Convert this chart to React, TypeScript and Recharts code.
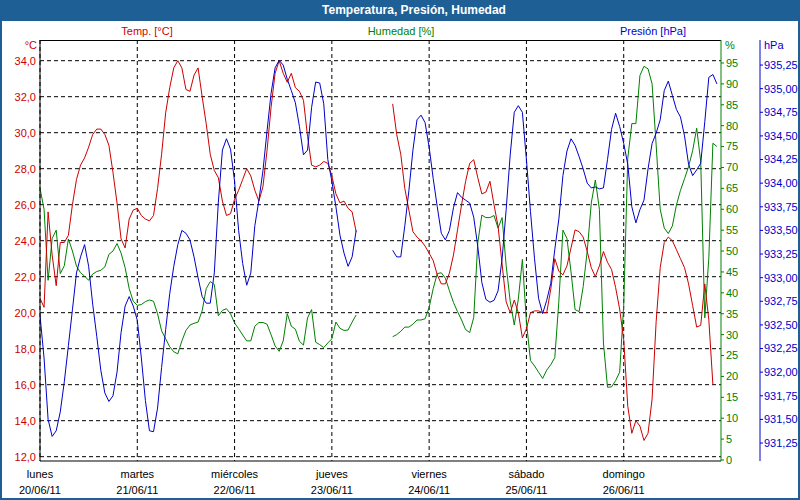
import React from 'react'
import {
  LineChart,
  Line,
  XAxis,
  YAxis,
  CartesianGrid,
} from 'recharts'

// one reading per hour, lunes 20/06/11 00:00 .. lunes 27/06/11 00:00
const hours = Array.from({ length: 169 }, (_, i) => i)

const dayTicks = [0, 24, 48, 72, 96, 120, 144]
const dayNames = ['lunes', 'martes', 'miércoles', 'jueves', 'viernes', 'sábado', 'domingo']
const dayDates = ['20/06/11', '21/06/11', '22/06/11', '23/06/11', '24/06/11', '25/06/11', '26/06/11']

const tempTicks = [12, 14, 16, 18, 20, 22, 24, 26, 28, 30, 32, 34]
const humTicks = [0, 5, 10, 15, 20, 25, 30, 35, 40, 45, 50, 55, 60, 65, 70, 75, 80, 85, 90, 95]
const presTicks = [931.25, 931.5, 931.75, 932, 932.25, 932.5, 932.75, 933, 933.25, 933.5, 933.75, 934, 934.25, 934.5, 934.75, 935, 935.25]

// Temp. [°C]
const temp = [
  20.8, 20.3, 25.6, 23.2, 21.5, 23.9, 23.9, 24.3, 26.0, 27.4, // 0
  28.2, 28.6, 29.2, 29.9, 30.2, 30.2, 29.9, 29.3, 27.8, 26.1, // 10
  24.1, 23.6, 25.2, 25.7, 25.8, 25.4, 25.2, 25.1, 25.4, 26.9, // 20
  28.8, 31.1, 32.5, 33.6, 34.0, 33.6, 32.4, 32.3, 33.2, 33.6, // 30
  32.0, 30.5, 28.8, 27.9, 27.5, 26.2, 25.4, 25.5, 26.3, 26.8, // 40
  27.4, 28.0, 27.6, 26.8, 26.2, 27.0, 29.0, 31.4, 33.3, 34.0, // 50
  33.3, 32.8, 33.3, 32.5, 32.3, 31.8, 29.8, 28.2, 28.1, 28.2, // 60
  28.4, 28.3, 27.6, 26.6, 26.1, 26.2, 25.8, 25.6, 24.5, null, // 70
  null, null, null, null, null, null, null, 31.6, 29.9, 28.8, // 80
  26.9, 25.7, 24.5, 24.2, 24.0, 23.7, 23.3, 22.9, 22.1, 21.6, // 90
  21.6, 22.2, 23.2, 24.6, 26.0, 27.3, 28.3, 28.5, 27.5, 26.6, // 100
  26.7, 27.3, 26.0, 24.8, 22.7, 20.6, 20.0, 20.7, 20.0, 18.6, // 110
  19.1, 20.0, 20.1, 20.1, 20.0, 20.0, 21.3, 23.0, 22.3, 22.1, // 120
  22.6, 23.6, 24.6, 24.5, 24.2, 23.4, 22.5, 22.0, 22.6, 23.4, // 130
  22.8, 22.4, 21.4, 20.2, 18.5, 14.8, 13.3, 14.0, 13.7, 12.9, // 140
  13.3, 15.2, 19.5, 22.5, 23.9, 24.2, 24.0, 23.5, 23.0, 22.5, // 150
  21.6, 20.4, 19.2, 19.3, 21.6, 19.6, 16.0, null, null, // 160
]

// Humedad [%]
const hum = [
  65.0, 60.0, 43.0, 53.0, 55.0, 44.6, 46.5, 52.9, 50.0, 46.4, // 0
  44.8, 44.0, 43.0, 44.5, 45.1, 45.4, 46.2, 49.2, 50.0, 51.8, // 10
  49.5, 46.0, 41.0, 38.0, 37.0, 37.2, 37.9, 38.3, 38.0, 35.0, // 20
  30.9, 29.0, 27.1, 25.9, 25.4, 28.5, 31.0, 32.3, 32.7, 33.0, // 30
  35.7, 41.0, 42.7, 42.0, 34.5, 35.8, 36.2, 35.0, 32.8, 31.4, // 40
  29.9, 28.5, 28.5, 32.0, 32.9, 32.9, 32.5, 30.0, 27.3, 26.0, // 50
  28.5, 35.0, 32.0, 31.3, 28.4, 27.5, 34.0, 36.0, 28.2, 27.6, // 60
  26.9, 28.0, 29.0, 33.0, 31.5, 31.0, 31.1, 33.0, 34.7, null, // 70
  null, null, null, null, null, null, null, 29.5, 30.0, 30.8, // 80
  31.8, 31.8, 32.5, 33.5, 33.5, 33.8, 36.5, 41.0, 44.6, 44.8, // 90
  43.5, 40.5, 37.7, 35.5, 33.5, 31.2, 30.5, 34.1, 52.0, 58.6, // 100
  58.0, 58.0, 58.5, 55.5, 58.0, 46.5, 38.0, 32.3, 38.5, 48.0, // 110
  33.0, 23.8, 22.5, 21.0, 19.5, 21.5, 22.8, 24.5, 38.0, 55.0, // 120
  53.0, 45.0, 36.0, 35.5, 41.5, 50.0, 61.5, 67.0, 60.0, 28.0, // 130
  17.4, 17.5, 19.0, 21.0, 37.0, 72.2, 80.5, 80.5, 92.0, 94.2, // 140
  93.6, 90.0, 75.4, 60.0, 55.5, 54.2, 56.0, 61.0, 64.5, 67.3, // 150
  70.2, 74.0, 79.4, 71.4, 34.0, 48.4, 75.8, 75.0, null, // 160
]

// Presión [hPa]
const pres = [
  932.6, 932.15, 931.5, 931.32, 931.38, 931.58, 931.9, 932.28, 932.66, 933.05, // 0
  933.22, 933.35, 933.12, 932.72, 932.38, 932.02, 931.78, 931.69, 931.75, 932.0, // 10
  932.42, 932.7, 932.8, 932.7, 932.55, 932.15, 931.7, 931.38, 931.37, 931.62, // 20
  932.05, 932.45, 932.83, 933.12, 933.35, 933.5, 933.47, 933.4, 933.22, 933.0, // 30
  932.8, 932.73, 932.73, 933.05, 933.8, 934.35, 934.47, 934.36, 934.02, 933.5, // 40
  933.15, 932.92, 933.05, 933.55, 933.82, 934.13, 934.55, 934.95, 935.22, 935.3, // 50
  935.25, 935.1, 934.98, 934.85, 934.6, 934.3, 934.35, 934.8, 935.07, 935.06, // 60
  934.84, 934.25, 934.02, 933.75, 933.45, 933.26, 933.12, 933.22, 933.5, null, // 70
  null, null, null, null, null, null, null, 933.29, 933.22, 933.22, // 80
  933.55, 933.92, 934.35, 934.67, 934.72, 934.64, 934.38, 934.05, 933.75, 933.47, // 90
  933.4, 933.5, 933.74, 933.9, 933.85, 933.82, 933.79, 933.64, 933.33, 932.95, // 100
  932.77, 932.74, 932.76, 932.86, 933.2, 933.72, 934.3, 934.75, 934.82, 934.75, // 110
  934.25, 933.7, 933.2, 932.78, 932.62, 932.76, 932.94, 933.3, 933.62, 934.08, // 120
  934.34, 934.47, 934.4, 934.28, 934.15, 934.0, 933.95, 933.96, 933.94, 933.95, // 130
  934.25, 934.57, 934.74, 934.6, 934.42, 934.2, 933.75, 933.58, 933.72, 933.82, // 140
  934.15, 934.42, 934.53, 934.67, 934.98, 935.08, 934.93, 934.78, 934.7, 934.5, // 150
  934.2, 934.08, 934.14, 934.21, 934.65, 935.12, 935.15, 935.05, null, // 160
]

const data = hours.map((h, i) => ({ h, temp: temp[i], hum: hum[i], pres: pres[i] }))

const RED = '#cc0000'
const GREEN = '#008000'
const BLUE = '#0000cc'
const FRAME = '#1e5f96'
const FONT = '"Liberation Sans", Arial, sans-serif'

const comma = (v: number, d: number) => v.toFixed(d).replace('.', ',')

const DayTick = (props: any) => {
  const { x, y, payload } = props
  const i = dayTicks.indexOf(payload.value)
  if (i < 0) return null
  return (
    <g>
      <text x={x} y={y + 15} textAnchor="middle" fontSize={11} fontFamily={FONT} fill="#000">
        {dayNames[i]}
      </text>
      <text x={x} y={y + 31} textAnchor="middle" fontSize={11} fontFamily={FONT} fill="#000">
        {dayDates[i]}
      </text>
    </g>
  )
}

const label = (text: string, color: string, left: number, top: number, align: 'left' | 'center' | 'right' = 'center') => (
  <div
    style={{
      position: 'absolute',
      left: align === 'center' ? left - 100 : align === 'right' ? left - 200 : left,
      top,
      width: align === 'left' ? 'auto' : 200,
      textAlign: align,
      color,
      fontSize: 11,
      fontFamily: FONT,
      lineHeight: '13px',
      whiteSpace: 'nowrap',
    }}
  >
    {text}
  </div>
)

export default function App() {
  return (
    <div
      style={{
        position: 'absolute',
        left: 0,
        top: 0,
        width: 800,
        height: 500,
        background: '#fff',
        overflow: 'hidden',
      }}
    >
      <div style={{ position: 'absolute', left: 0, top: 0, width: 800, height: 21, background: FRAME }} />
      <div
        style={{
          position: 'absolute',
          left: 214,
          top: 3,
          width: 400,
          textAlign: 'center',
          color: '#fff',
          fontWeight: 'bold',
          fontSize: 12,
          fontFamily: FONT,
          lineHeight: '15px',
        }}
      >
        Temperatura, Presión, Humedad
      </div>
      <div style={{ position: 'absolute', left: 0, top: 0, width: 2, height: 500, background: FRAME }} />
      <div style={{ position: 'absolute', right: 0, top: 0, width: 2, height: 500, background: FRAME }} />
      <div style={{ position: 'absolute', left: 0, bottom: 0, width: 800, height: 2, background: FRAME }} />

      {label('Temp. [°C]', RED, 147, 25)}
      {label('Humedad [%]', GREEN, 401, 25)}
      {label('Presión [hPa]', BLUE, 653, 25)}
      {label('°C', RED, 37, 39, 'right')}
      {label('%', GREEN, 725, 39, 'left')}
      {label('hPa', BLUE, 764, 39, 'left')}

      <div style={{ position: 'absolute', left: 40, top: 40, width: 681, height: 1, background: '#000' }} />

      <div style={{ position: 'absolute', left: 0, top: 0 }}>
        <LineChart width={800} height={500} data={data} margin={{ top: 40, right: 0, bottom: 0, left: 0 }}>
          <CartesianGrid
            yAxisId="t"
            stroke="#000"
            strokeDasharray="4 3"
            horizontalValues={tempTicks}
            verticalValues={dayTicks}
          />
          <XAxis
            dataKey="h"
            type="number"
            domain={[0, 168]}
            ticks={dayTicks}
            interval={0}
            height={39}
            stroke="#000"
            tickLine={false}
            tickSize={0}
            tick={<DayTick />}
            allowDataOverflow
          />
          <YAxis
            yAxisId="t"
            orientation="left"
            width={40}
            domain={[11.76, 35.15]}
            ticks={tempTicks}
            interval={0}
            allowDataOverflow
            stroke="#000"
            tickLine={false}
            tickSize={0}
            tickMargin={4}
            tick={{ fill: RED, fontSize: 11, fontFamily: FONT }}
            tickFormatter={(v: number) => comma(v, 1)}
          />
          <YAxis
            yAxisId="h"
            orientation="right"
            width={39}
            domain={[-0.24, 100.5]}
            ticks={humTicks}
            interval={0}
            allowDataOverflow
            stroke={GREEN}
            tickSize={3}
            tickMargin={2}
            tick={{ fill: GREEN, fontSize: 11, fontFamily: FONT, textAnchor: 'start' }}
          />
          <YAxis
            yAxisId="p"
            orientation="right"
            width={40}
            domain={[931.06, 935.515]}
            ticks={presTicks}
            interval={0}
            allowDataOverflow
            stroke={BLUE}
            tickSize={3}
            tickMargin={1}
            tick={{ fill: BLUE, fontSize: 11, fontFamily: FONT, textAnchor: 'start' }}
            tickFormatter={(v: number) => comma(v, 2)}
          />
          <Line yAxisId="h" type="linear" dataKey="hum" stroke={GREEN} strokeWidth={1} dot={false} isAnimationActive={false} />
          <Line yAxisId="t" type="linear" dataKey="temp" stroke={RED} strokeWidth={1} dot={false} isAnimationActive={false} />
          <Line yAxisId="p" type="linear" dataKey="pres" stroke={BLUE} strokeWidth={1} dot={false} isAnimationActive={false} />
        </LineChart>
      </div>
    </div>
  )
}
